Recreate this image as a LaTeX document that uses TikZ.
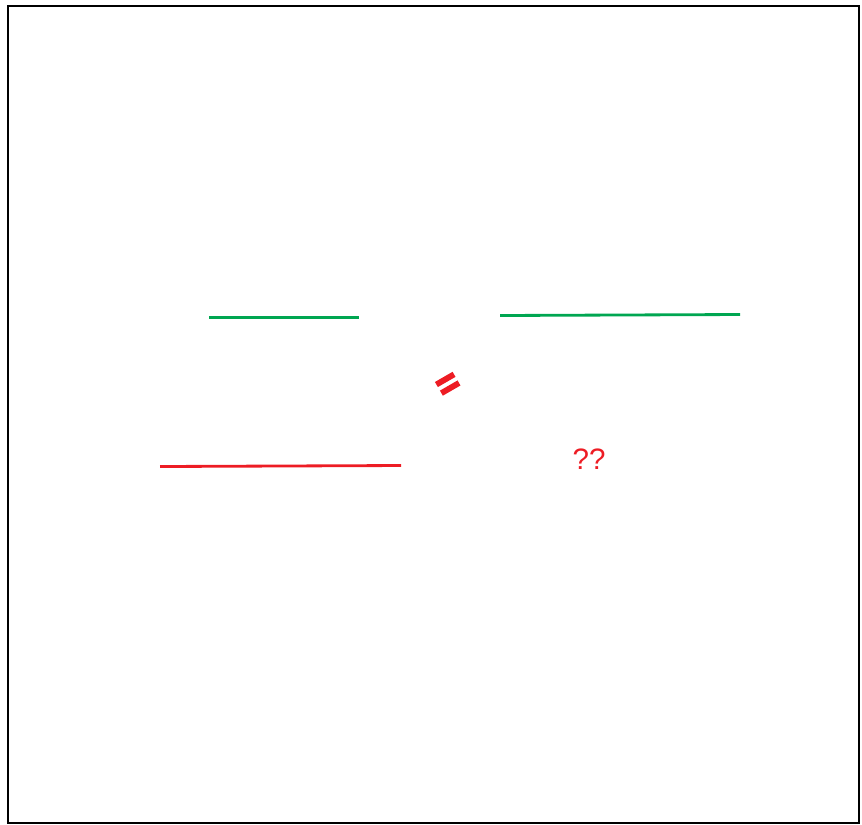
\documentclass[tikz,border=0pt]{standalone}
\usepackage{fontspec}
\setmainfont{Liberation Sans}
\newfontfamily\heavyfont[FakeBold=5]{Liberation Sans Bold}
\definecolor{markgreen}{RGB}{0,166,81}
\definecolor{markred}{RGB}{237,28,36}

\begin{document}
\begin{tikzpicture}[x=0.01cm,y=-0.01cm,
  frame/.style={draw=black,line width=0.75pt},
  greenline/.style={draw=markgreen,line width=0.8pt},
  redline/.style={draw=markred,line width=0.8pt},
  redmark/.style={text=markred,inner sep=0pt}]
  \useasboundingbox (0,0) rectangle (862,824);
  \draw[frame] (8,6) rectangle (859,823);
  \draw[greenline] (209,317.5) -- (359,317.5);
  \draw[greenline] (500,315.5) -- (740,314.5);
  \draw[redline] (160,466.5) -- (401,465.5);
  \node[redmark,font=\fontsize{10.5}{12}\heavyfont,rotate=30] (equal) at (449,386) {=};
  \node[redmark,font=\fontsize{8.4}{10}\selectfont] (query) at (589,459) {??};
\end{tikzpicture}
\end{document}
